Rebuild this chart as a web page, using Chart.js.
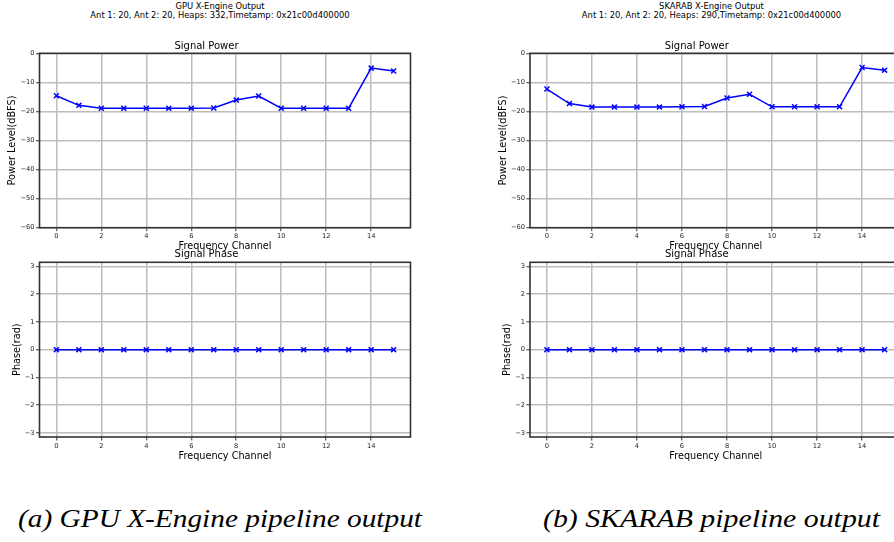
<!DOCTYPE html>
<html>
<head>
<meta charset="utf-8">
<script src="https://cdn.jsdelivr.net/npm/chart.js@4.4.1/dist/chart.umd.min.js"></script>
<style>
  html, body { margin: 0; padding: 0; background: #fff; overflow: hidden; width: 894px; height: 542px; }
  body { position: relative; }
  canvas { position: absolute; }
  .sup { position: absolute; font-family: "DejaVu Sans"; font-size: 8.4px; line-height: 9.2px; color: #000; text-align: center; white-space: nowrap; }
  .cap { position: absolute; font-family: "Liberation Serif"; font-style: italic; font-size: 26px; line-height: 26px; color: #000; white-space: nowrap; transform-origin: 0 0; }
</style>
</head>
<body>
<div class="sup" style="left:0px; top:2px; width:440px">GPU X-Engine Output<br>Ant 1: 20, Ant 2: 20, Heaps: 332,Timetamp: 0x21c00d400000</div>
<div class="sup" style="left:461.5px; top:2px; width:500px">SKARAB X-Engine Output<br>Ant 1: 20, Ant 2: 20, Heaps: 290,Timetamp: 0x21c00d400000</div>

<canvas id="gpuPowerChart" width="416" height="230" style="left:0px; top:30px"></canvas>
<canvas id="gpuPhaseChart" width="416" height="230" style="left:0px; top:240px"></canvas>
<canvas id="skarabPowerChart" width="417" height="230" style="left:490px; top:30px"></canvas>
<canvas id="skarabPhaseChart" width="417" height="230" style="left:490px; top:240px"></canvas>

<div class="cap" id="capA" data-w="404" style="left:18px; top:506px">(a) GPU X-Engine pipeline output</div>
<div class="cap" id="capB" data-w="337" style="left:543px; top:506px">(b) SKARAB pipeline output</div>

<script>
// Frequency channels and per-channel readings
const channels = [0, 1, 2, 3, 4, 5, 6, 7, 8, 9, 10, 11, 12, 13, 14, 15];
const gpuPower    = [-14.6, -17.9, -18.9, -18.9, -18.9, -18.9, -18.9, -18.8, -16.1, -14.7, -18.9, -18.9, -18.9, -18.9, -5.1, -6.1];
const skarabPower = [-12.3, -17.3, -18.5, -18.5, -18.5, -18.5, -18.4, -18.3, -15.4, -14.1, -18.4, -18.4, -18.4, -18.4, -4.9, -5.8];
const gpuPhase    = [0, 0, 0, 0, 0, 0, 0, 0, 0, 0, 0, 0, 0, 0, 0, 0];
const skarabPhase = [0, 0, 0, 0, 0, 0, 0, 0, 0, 0, 0, 0, 0, 0, 0, 0];

// Tick labels
const channelTicks = [0, 2, 4, 6, 8, 10, 12, 14];
const powerTicks = [-60, -50, -40, -30, -20, -10, 0];
const phaseTicks = [-3, -2, -1, 0, 1, 2, 3];

Chart.defaults.font.family = '"DejaVu Sans"';
Chart.defaults.color = '#222';

const fmt = v => String(v).replace('-', '\u2212');

// full rectangular frame around the plot area
const framePlugin = {
  id: 'frame',
  afterDatasetsDraw(chart) {
    const { ctx, chartArea: a } = chart;
    ctx.save();
    ctx.strokeStyle = '#333';
    ctx.lineWidth = 1.6;
    ctx.strokeRect(a.left, a.top, a.right - a.left, a.bottom - a.top);
    ctx.restore();
  }
};

function makePanel(id, values, cfg) {
  const grid = { color: '#bebebe', lineWidth: 1.5, tickColor: '#333', tickLength: 3.5, tickWidth: 1 };
  return new Chart(document.getElementById(id), {
    type: 'line',
    data: {
      datasets: [{
        data: channels.map((c, i) => ({ x: c, y: values[i] })),
        borderColor: '#0000ff',
        borderWidth: 1.5,
        pointStyle: 'crossRot',
        pointRadius: 3.5,
        pointBorderWidth: 1.5,
        pointBorderColor: '#0000ff',
        pointBackgroundColor: '#0000ff',
        tension: 0,
        fill: false
      }]
    },
    options: {
      responsive: false,
      animation: false,
      events: [],
      layout: { padding: { left: 0, top: 0, bottom: 0, right: cfg.padRight } },
      plugins: {
        legend: { display: false },
        tooltip: { enabled: false },
        title: {
          display: true,
          text: cfg.title,
          color: '#000',
          font: { size: 10, weight: 'normal' },
          padding: { top: cfg.titleTop, bottom: cfg.titleBottom }
        }
      },
      scales: {
        x: {
          type: 'linear',
          min: -0.75,
          max: 15.75,
          afterBuildTicks: s => { s.ticks = channelTicks.map(v => ({ value: v })); },
          afterFit: s => { s.height = cfg.xHeight; },
          grid: grid,
          border: { display: false },
          ticks: { font: { size: 6.7 }, color: '#222', padding: 1.5, maxRotation: 0, autoSkip: false, callback: v => fmt(v) },
          title: { display: true, text: 'Frequency Channel', color: '#000', font: { size: 9.7 }, padding: { top: 0, bottom: cfg.xTitleBottom } }
        },
        y: {
          type: 'linear',
          min: cfg.yMin,
          max: cfg.yMax,
          afterBuildTicks: s => { s.ticks = cfg.yTicks.map(v => ({ value: v })); },
          afterFit: s => { s.width = cfg.yWidth; },
          grid: grid,
          border: { display: false },
          ticks: { font: { size: 6.7 }, color: '#222', padding: 1.5, autoSkip: false, callback: v => fmt(v) },
          title: { display: true, text: cfg.yLabel, color: '#000', font: { size: 9.7 }, padding: { top: cfg.yTitleTop, bottom: 0 } }
        }
      }
    },
    plugins: [framePlugin]
  });
}

const powerCfg = {
  title: 'Signal Power', titleTop: 10, titleBottom: 1.3,
  yMin: -60, yMax: 0, yTicks: powerTicks, yLabel: 'Power Level(dBFS)',
  xHeight: 32.3, xTitleBottom: 7.7
};
const phaseCfg = {
  title: 'Signal Phase', titleTop: 8.5, titleBottom: 1.8,
  yMin: -3.15, yMax: 3.15, yTicks: phaseTicks, yLabel: 'Phase(rad)',
  xHeight: 33, xTitleBottom: 8.2
};

makePanel('gpuPowerChart', gpuPower, Object.assign({}, powerCfg, { padRight: 3, yWidth: 39.5, yTitleTop: 6.7 }));
makePanel('gpuPhaseChart', gpuPhase, Object.assign({}, phaseCfg, { padRight: 3, yWidth: 39.5, yTitleTop: 11.2 }));
makePanel('skarabPowerChart', skarabPower, Object.assign({}, powerCfg, { padRight: 3.4, yWidth: 40, yTitleTop: 7.2 }));
makePanel('skarabPhaseChart', skarabPhase, Object.assign({}, phaseCfg, { padRight: 3.4, yWidth: 40, yTitleTop: 11.7 }));

// stretch each caption to its set width
function fitCaptions() {
  document.querySelectorAll('.cap').forEach(el => {
    el.style.transform = 'none';
    const w = el.getBoundingClientRect().width;
    const target = parseFloat(el.dataset.w);
    if (w > 0) el.style.transform = 'scaleX(' + (target / w) + ')';
  });
}
fitCaptions();
if (document.fonts && document.fonts.ready) document.fonts.ready.then(fitCaptions);
</script>
</body>
</html>
